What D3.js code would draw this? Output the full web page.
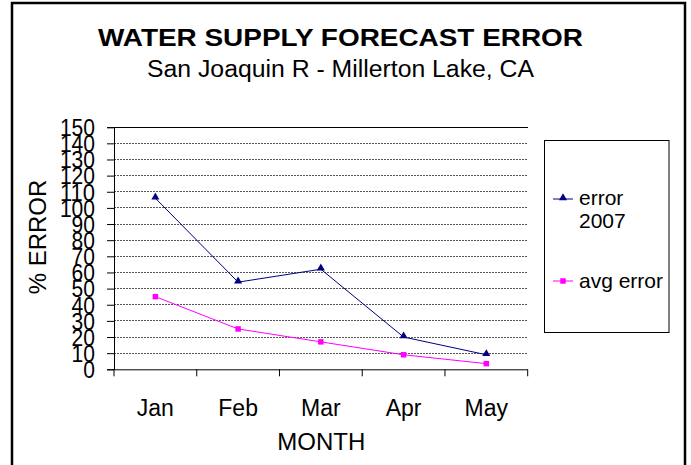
<!DOCTYPE html>
<html>
<head>
<meta charset="utf-8">
<script src="https://cdn.jsdelivr.net/npm/d3@7"></script>
<style>
  body { margin: 0; background: #fff; }
  text { font-family: Arial, "Liberation Sans", sans-serif; fill: #000; }
</style>
</head>
<body>
<div id="chart"></div>
<script>
const months = ["Jan", "Feb", "Mar", "Apr", "May"];
const error2007 = [106, 54, 62, 20, 9];
const avgError = [45, 25, 17, 9, 3.5];
const yTicks = d3.range(0, 151, 10);

const width = 691, height = 465;
const plot = { left: 114, right: 527.7, top: 127.2, bottom: 369.3 };

const svg = d3.select("#chart")
  .append("svg")
  .attr("width", width)
  .attr("height", height);

// outer chart border
svg.append("rect")
  .attr("x", 12).attr("y", 3)
  .attr("width", 673).attr("height", 475)
  .attr("fill", "none")
  .attr("stroke", "#000")
  .attr("stroke-width", 2.5);

svg.append("text")
  .attr("x", 340.5).attr("y", 46)
  .attr("text-anchor", "middle")
  .attr("font-size", 24)
  .attr("font-weight", "bold")
  .attr("textLength", 485)
  .attr("lengthAdjust", "spacingAndGlyphs")
  .text("WATER SUPPLY FORECAST ERROR");

svg.append("text")
  .attr("x", 340.5).attr("y", 76.5)
  .attr("text-anchor", "middle")
  .attr("font-size", 23)
  .attr("textLength", 387)
  .attr("lengthAdjust", "spacingAndGlyphs")
  .text("San Joaquin R - Millerton Lake, CA");

const x = d3.scaleBand()
  .domain(months)
  .range([plot.left, plot.right])
  .padding(0);

const y = d3.scaleLinear()
  .domain([0, 150])
  .range([plot.bottom, plot.top]);

// gridlines
svg.append("g")
  .selectAll("line")
  .data(yTicks.filter(d => d > 0))
  .join("line")
  .attr("x1", plot.left).attr("x2", plot.right)
  .attr("y1", d => y(d)).attr("y2", d => y(d))
  .attr("stroke", d => d === 150 ? "#000" : "#555")
  .attr("stroke-width", 1)
  .attr("stroke-dasharray", d => d === 150 ? null : "2,1")
  .attr("shape-rendering", "crispEdges");

// y axis, labels are tall and squeezed like the original
const yAxis = svg.append("g")
  .attr("transform", "translate(" + plot.left + ",0)")
  .call(d3.axisLeft(y).tickValues(yTicks).tickSize(7).tickPadding(12))
  .attr("font-family", null)
  .attr("font-size", null);
yAxis.select(".domain").attr("stroke", "#000");
yAxis.selectAll("text")
  .attr("font-size", 23)
  .attr("dy", "0.36em")
  .attr("textLength", d => String(d).length * 11.7)
  .attr("lengthAdjust", "spacingAndGlyphs");

// x axis
const xAxis = svg.append("g")
  .attr("transform", "translate(0," + plot.bottom + ")")
  .call(d3.axisBottom(x).tickSize(0).tickPadding(30))
  .attr("font-family", null)
  .attr("font-size", null);
xAxis.select(".domain").attr("d", "M" + plot.left + ",0.5H" + plot.right);
xAxis.selectAll("text").attr("font-size", 23).attr("dy", "0.71em");

// tick marks between categories
svg.append("g")
  .selectAll("line")
  .data(months.map(m => x(m)).concat([plot.right]))
  .join("line")
  .attr("x1", d => d).attr("x2", d => d)
  .attr("y1", plot.bottom).attr("y2", plot.bottom + 7)
  .attr("stroke", "#000");

svg.append("text")
  .attr("x", (plot.left + plot.right) / 2 + 0.5)
  .attr("y", 450)
  .attr("text-anchor", "middle")
  .attr("font-size", 24)
  .text("MONTH");

svg.append("text")
  .attr("transform", "translate(46,237) rotate(-90)")
  .attr("text-anchor", "middle")
  .attr("font-size", 24)
  .text("% ERROR");

const line = d3.line()
  .x((d, i) => x(months[i]) + x.bandwidth() / 2)
  .y(d => y(d));

svg.append("path")
  .datum(avgError)
  .attr("d", line)
  .attr("fill", "none")
  .attr("stroke", "#ff00ff")
  .attr("stroke-width", 1);

svg.append("path")
  .datum(error2007)
  .attr("d", line)
  .attr("fill", "none")
  .attr("stroke", "#000080")
  .attr("stroke-width", 1);

const square = d3.symbol().type(d3.symbolSquare).size(30);
const triangle = d3.symbol().type(d3.symbolTriangle).size(28);

svg.append("g")
  .selectAll("path")
  .data(avgError)
  .join("path")
  .attr("transform", (d, i) => "translate(" + (x(months[i]) + x.bandwidth() / 2) + "," + y(d) + ")")
  .attr("d", square)
  .attr("fill", "#ff00ff");

svg.append("g")
  .selectAll("path")
  .data(error2007)
  .join("path")
  .attr("transform", (d, i) => "translate(" + (x(months[i]) + x.bandwidth() / 2) + "," + (y(d) - 1) + ")")
  .attr("d", triangle)
  .attr("fill", "#000080");

// legend
const legend = svg.append("g");
legend.append("rect")
  .attr("x", 544.5).attr("y", 140.5)
  .attr("width", 124.5).attr("height", 192)
  .attr("fill", "#fff")
  .attr("stroke", "#000")
  .attr("stroke-width", 1);

legend.append("line")
  .attr("x1", 553).attr("x2", 573).attr("y1", 199).attr("y2", 199)
  .attr("stroke", "#000080");
legend.append("path")
  .attr("transform", "translate(563,198)")
  .attr("d", triangle)
  .attr("fill", "#000080");
legend.append("text").attr("x", 579).attr("y", 205).attr("font-size", 21).text("error");
legend.append("text").attr("x", 579).attr("y", 228).attr("font-size", 21).text("2007");

legend.append("line")
  .attr("x1", 553).attr("x2", 573).attr("y1", 281).attr("y2", 281)
  .attr("stroke", "#ff00ff");
legend.append("path")
  .attr("transform", "translate(563,281)")
  .attr("d", square)
  .attr("fill", "#ff00ff");
legend.append("text").attr("x", 579).attr("y", 288).attr("font-size", 21).text("avg error");
</script>
</body>
</html>
